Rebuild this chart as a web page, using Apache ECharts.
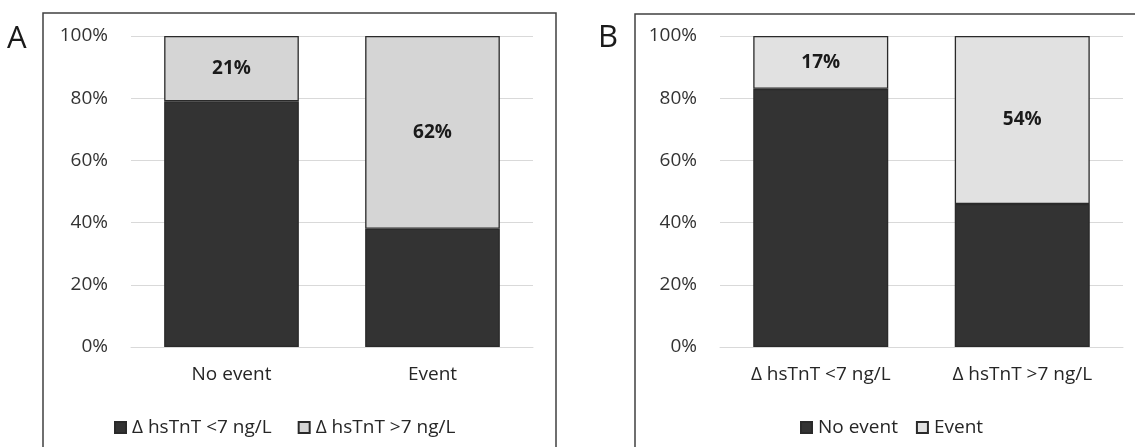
<!DOCTYPE html>
<html>
<head>
<meta charset="utf-8">
<script src="https://cdn.jsdelivr.net/npm/echarts@6/dist/echarts.min.js"></script>
<style>html,body{margin:0;padding:0;background:#fff;}#c{width:1135px;height:447px;}</style>
</head>
<body>
<div id="c"></div>
<script>
// Panel A
const catsA = ['No event', 'Event'];
const seriesNamesA = ['Δ hsTnT <7 ng/L', 'Δ hsTnT >7 ng/L'];
const lowA = [79, 38];
const highA = [21, 62];
// Panel B
const catsB = ['Δ hsTnT <7 ng/L', 'Δ hsTnT >7 ng/L'];
const seriesNamesB = ['No event', 'Event'];
const lowB = [83, 46];
const highB = [17, 54];
const yTicks = [0, 20, 40, 60, 80, 100];

const FONT = 'Open Sans';
const DARK = '#333333';
const LIGHT_A = '#d5d5d5';
const LIGHT_B = '#e1e1e1';

const chart = echarts.init(document.getElementById('c'), null, {renderer: 'canvas'});

function yAxis(idx) {
  return {
    type: 'value', gridIndex: idx, min: 0, max: 100, interval: 20,
    axisLine: {show: false}, axisTick: {show: false},
    splitLine: {lineStyle: {color: '#d9d9d9', width: 1}},
    axisLabel: {formatter: v => yTicks.includes(v) ? v + '%' : '', color: '#333',
      fontFamily: FONT, fontSize: 19, margin: 23}
  };
}
function xAxis(idx, cats) {
  return {
    type: 'category', gridIndex: idx, data: cats,
    axisLine: {lineStyle: {color: '#d9d9d9', width: 1}}, axisTick: {show: false},
    axisLabel: {color: '#262626', fontFamily: FONT, fontSize: 19, margin: 18}
  };
}
function bar(name, idx, data, color, label) {
  return {
    name: name, type: 'bar', stack: 's' + idx, xAxisIndex: idx, yAxisIndex: idx,
    data: data, barCategoryGap: '33%',
    itemStyle: {color: color, borderColor: '#2a2a2a', borderWidth: 1.3},
    label: label ? {show: true, position: 'inside', formatter: p => p.value + '%',
      fontFamily: FONT, fontWeight: 'bold', fontSize: 19, color: '#1a1a1a'} : {show: false},
    emphasis: {disabled: true}
  };
}

chart.setOption({
  animation: false,
  backgroundColor: '#fff',
  textStyle: {fontFamily: FONT},
  grid: [
    {left: 131, right: 602, top: 36, bottom: 100},
    {left: 720, right: 12, top: 36, bottom: 100}
  ],
  xAxis: [xAxis(0, catsA), xAxis(1, catsB)],
  yAxis: [yAxis(0), yAxis(1)],
  legend: [
    {data: seriesNamesA, left: 109, top: 413, itemWidth: 11, itemHeight: 11, itemGap: 26,
      icon: 'rect', textStyle: {fontFamily: FONT, fontSize: 19, color: '#262626', padding: [0, 0, 0, 1]}},
    {data: seriesNamesB, left: 795, top: 413, itemWidth: 11, itemHeight: 11, itemGap: 18,
      icon: 'rect', textStyle: {fontFamily: FONT, fontSize: 19, color: '#262626', padding: [0, 0, 0, 1]}}
  ],
  series: [
    bar(seriesNamesA[0], 0, lowA, DARK, false),
    bar(seriesNamesA[1], 0, highA, LIGHT_A, true),
    bar(seriesNamesB[0], 1, lowB, DARK, false),
    bar(seriesNamesB[1], 1, highB, LIGHT_B, true)
  ],
  graphic: [
    {type: 'rect', shape: {x: 43, y: 13, width: 513, height: 460}, style: {fill: 'none', stroke: '#404040', lineWidth: 1.5}, z: 100, silent: true},
    {type: 'rect', shape: {x: 635, y: 14, width: 540, height: 460}, style: {fill: 'none', stroke: '#404040', lineWidth: 1.5}, z: 100, silent: true},
    {type: 'text', left: 7, top: 24, style: {text: 'A', font: '31px "Open Sans"', fill: '#1a1a1a'}},
    {type: 'text', left: 598, top: 23, style: {text: 'B', font: '31px "Open Sans"', fill: '#1a1a1a'}}
  ]
});
</script>
</body>
</html>
